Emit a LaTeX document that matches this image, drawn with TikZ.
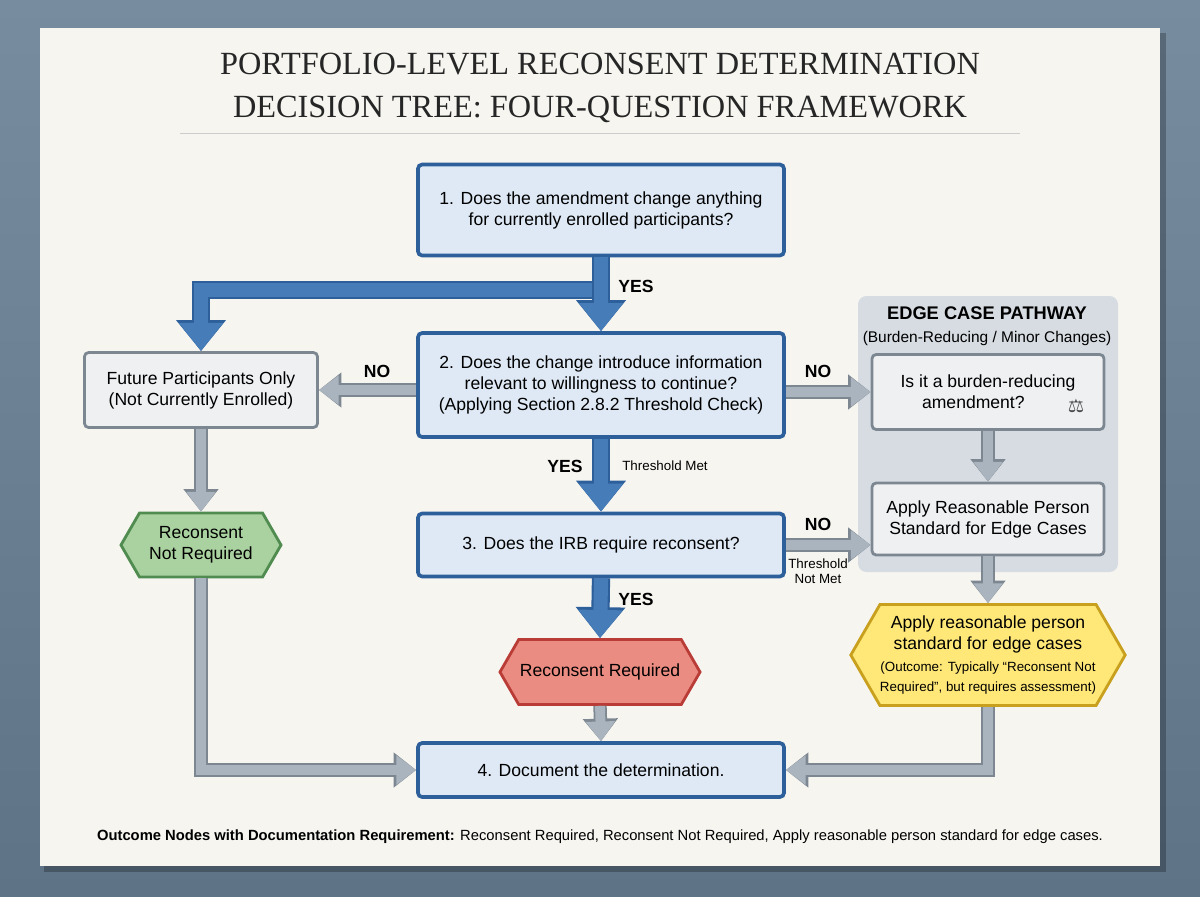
\documentclass[tikz,border=0pt]{standalone}
\usepackage{fontspec}
\setmainfont{Liberation Sans}
\newfontfamily\titlefont{Liberation Serif}
\newfontfamily\symfont{DejaVu Sans}
\usetikzlibrary{arrows.meta,shapes.symbols,positioning}
\definecolor{paper}{RGB}{246,245,240}
\definecolor{qfill}{RGB}{222,233,245}
\definecolor{qdraw}{RGB}{45,95,155}
\definecolor{gfill}{RGB}{238,240,242}
\definecolor{gdraw}{RGB}{125,135,145}
\definecolor{afill}{RGB}{170,180,190}
\definecolor{bluearr}{RGB}{70,125,185}
\definecolor{okfill}{RGB}{170,210,160}
\definecolor{okdraw}{RGB}{80,140,80}
\definecolor{nofill}{RGB}{235,140,130}
\definecolor{nodraw}{RGB}{185,60,55}
\definecolor{edfill}{RGB}{255,232,120}
\definecolor{eddraw}{RGB}{200,160,30}
\definecolor{panel}{RGB}{215,220,226}
\tikzset{
  qbox/.style={draw=qdraw, fill=qfill, line width=2.6pt, rounded corners=3pt,
    align=center, inner sep=0pt, font=\fontsize{12.5}{15}\selectfont},
  gbox/.style={draw=gdraw, fill=gfill, line width=2pt, rounded corners=3pt,
    align=center, inner sep=0pt, font=\fontsize{12.5}{15}\selectfont},
  outcome/.style={signal, signal to=west and east, signal pointer angle=120,
    line width=2pt, align=center, inner sep=0pt, font=\fontsize{12.5}{15}\selectfont},
  bluearrow/.style={line width=10pt, draw=bluearr, -{Triangle[length=20pt,width=30pt]},
    preaction={draw=qdraw, line width=13pt, -{Triangle[length=22pt,width=34pt]}}},
  grayarrow/.style={line width=7pt, draw=afill, -{Triangle[length=14pt,width=20pt]},
    preaction={draw=gdraw, line width=9.5pt, -{Triangle[length=16pt,width=24pt]}}},
  lbl/.style={font=\bfseries\fontsize{12.5}{15}\selectfont},
  small/.style={font=\fontsize{9.5}{11}\selectfont, align=center}
}
\begin{document}
\begin{tikzpicture}[x=0.025cm, y=-0.025cm]
  \useasboundingbox (0,0) rectangle (1200,896);
  % background and paper
  \shade[top color={rgb,255:red,120;green,140;blue,160}, bottom color={rgb,255:red,95;green,115;blue,135}] (0,0) rectangle (1200,896);
  \fill[black, opacity=0.25] (44,33) rectangle (1166,872);
  \fill[paper] (40,28) rectangle (1160,866);
  % title
  \node[font=\titlefont\fontsize{23}{30}\selectfont, text=black!85, align=center] (title) at (600,88)
    {PORTFOLIO-LEVEL RECONSENT DETERMINATION\\DECISION TREE: FOUR-QUESTION FRAMEWORK};
  \draw[black!20, line width=0.6pt] (180,133) -- (1020,133);
  % edge case panel
  \fill[panel, rounded corners=6pt] (858,296) rectangle (1118,572);
  \node[font=\bfseries\fontsize{13}{15}\selectfont] (edgetitle) at (987,313) {EDGE CASE PATHWAY};
  \node[font=\fontsize{11}{13}\selectfont] (edgesub) at (987,338) {(Burden-Reducing / Minor Changes)};
  % nodes
  \node[qbox, minimum width=9.15cm, minimum height=2.275cm] (q1) at (601,210)
    {1. Does the amendment change anything\\for currently enrolled participants?};
  \node[qbox, minimum width=9.15cm, minimum height=2.6cm] (q2) at (601,385)
    {2. Does the change introduce information\\relevant to willingness to continue?\\(Applying Section 2.8.2 Threshold Check)};
  \node[qbox, minimum width=9.15cm, minimum height=1.575cm] (q3) at (601,545)
    {3. Does the IRB require reconsent?};
  \node[qbox, minimum width=9.15cm, minimum height=1.35cm] (q4) at (601,770)
    {4. Document the determination.};
  \node[gbox, minimum width=5.825cm, minimum height=1.875cm] (future) at (201,390)
    {Future Participants Only\\(Not Currently Enrolled)};
  \node[gbox, minimum width=5.8cm, minimum height=1.875cm] (burden) at (988,392)
    {Is it a burden-reducing\\amendment?\phantom{MM}};
  \node[font=\symfont\fontsize{13}{15}\selectfont, text=black!70] (scale) at (1076,406) {⚖};
  \node[gbox, minimum width=5.8cm, minimum height=1.8cm] (apply) at (988,519)
    {Apply Reasonable Person\\Standard for Edge Cases};
  \node[outcome, draw=okdraw, fill=okfill, minimum width=4cm, minimum height=1.6cm] (notreq) at (201,545)
    {Reconsent\\Not Required};
  \node[outcome, draw=nodraw, fill=nofill, minimum width=5cm, minimum height=1.625cm] (req) at (600,672)
    {Reconsent Required};
  \node[outcome, draw=eddraw, fill=edfill, minimum width=6.575cm, minimum height=2.525cm] (edge) at (988,655)
    {Apply reasonable person\\standard for edge cases\\[1pt]
     {\fontsize{9.5}{11}\selectfont (Outcome: Typically ``Reconsent Not}\\[-1pt]
     {\fontsize{9.5}{11}\selectfont Required'', but requires assessment)}};
  % connectors
  \coordinate (split) at (601,290);
  \draw[bluearrow] (split) -| (future.north);
  \draw[bluearrow] (q1.south) -- (q2.north);
  \draw[bluearrow] (q2.south) -- (q3.north);
  \draw[bluearrow] (q3.south) -- (req.north);
  \draw[grayarrow] (q2.west |- future.east) -- (future.east);
  \draw[grayarrow] (q2.east |- burden.west) -- (burden.west);
  \draw[grayarrow] (q3.east) -- (q3.east -| apply.west);
  \draw[grayarrow] (future.south) -- (notreq.north);
  \draw[grayarrow] (burden.south) -- (apply.north);
  \draw[grayarrow] (apply.south) -- (edge.north);
  \draw[grayarrow] (req.south) -- (q4.north);
  \draw[grayarrow] (notreq.south) |- (q4.west);
  \draw[grayarrow] (edge.south) |- (q4.east);
  % labels
  \node[lbl] (yes1) at (636,286) {YES};
  \node[lbl] (no1) at (377,371) {NO};
  \node[lbl] (no2) at (818,371) {NO};
  \node[lbl] (yes2) at (565,466) {YES};
  \node[small] (met) at (665,466) {Threshold Met};
  \node[lbl] (no3) at (818,524) {NO};
  \node[small] (notmet) at (818,571) {Threshold\\Not Met};
  \node[lbl] (yes3) at (636,599) {YES};
  % footer
  \node[font=\fontsize{10.5}{12}\selectfont] (footer) at (600,837)
    {\textbf{Outcome Nodes with Documentation Requirement:} Reconsent Required, Reconsent Not Required, Apply reasonable person standard for edge cases.};
\end{tikzpicture}
\end{document}
